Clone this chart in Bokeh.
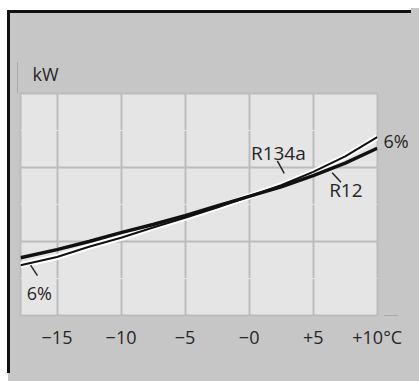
from bokeh.plotting import figure
from bokeh.models import (FixedTicker, Grid, Label, ColumnDataSource, Range1d, LinearAxis)
from bokeh.embed import file_html
from bokeh.resources import INLINE

# ---- data ----
temps = [-17.85, -15, -12.5, -10, -7.5, -5, -2.5, 0, 2.5, 5, 7.5, 10]
r12 = [0.78, 0.89, 1.00, 1.12, 1.23, 1.35, 1.48, 1.61, 1.74, 1.89, 2.06, 2.26]
r134a = [0.68, 0.79, 0.93, 1.05, 1.19, 1.32, 1.46, 1.61, 1.76, 1.94, 2.15, 2.41]
x_ticks = [-15, -10, -5, 0, 5, 10]
x_tick_labels = ["\u221215", "\u221210", "\u22125", "\u22120", "+5", "+10\u00b0C"]
y_grid = [1, 2]
right_mark = 2.36

FONT = "Open Sans"
TXT = "#262626"
GRID = "#bcbcbc"
PANEL = "#c6c6c6"

p = figure(width=411, height=373, output_backend="svg", toolbar_location=None,
           x_range=Range1d(-17.85, 10.02), y_range=Range1d(0, 3),
           y_axis_location=None,
           min_border_left=20, min_border_right=27, min_border_top=93, min_border_bottom=58,
           background_fill_color="#e5e5e5", border_fill_color=None)
# page decoration: black frame corner, grey panel, faint axis extensions
p.styles = {
    "background-color": "#ffffff",
    "background-image": ", ".join(["linear-gradient(#111111,#111111)"] * 2
                                  + ["linear-gradient(#a8a8a8,#a8a8a8)"] * 2
                                  + [f"linear-gradient({PANEL},{PANEL})"]),
    "background-position": "7px 10px, 7px 10px, 17px 62px, 384px 315px, 10px 13px",
    "background-size": "3px 100%, 100% 3px, 1px 31px, 14px 1px, 100% 100%",
    "background-repeat": "no-repeat",
    "box-shadow": f"8px 8px 0 0 {PANEL}",
}
p.outline_line_color = GRID
p.outline_line_width = 2

# title used as the unit label
p.title.text = "kW"
p.title.align = "left"
p.title.offset = 12
p.title.text_font = FONT
p.title.text_font_size = "18px"
p.title.text_font_style = "normal"
p.title.text_color = TXT
p.title.standoff = 15

# axis
ax = p.xaxis[0]
ax.ticker = FixedTicker(ticks=x_ticks)
ax.major_label_overrides = {t: l for t, l in zip(x_ticks, x_tick_labels)}
ax.axis_line_color = None
ax.major_tick_line_color = None
ax.minor_tick_line_color = None
ax.major_label_text_font = FONT
ax.major_label_text_font_size = "18px"
ax.major_label_text_color = TXT
ax.major_label_standoff = 3

rax = LinearAxis(ticker=FixedTicker(ticks=[right_mark]),
                 major_label_overrides={right_mark: "6%"},
                 axis_line_color=None, major_tick_line_color=None,
                 minor_tick_line_color=None, major_label_standoff=0,
                 major_label_text_font=FONT, major_label_text_font_size="18px",
                 major_label_text_color=TXT)
p.add_layout(rax, "right")

p.xgrid.ticker = FixedTicker(ticks=[t for t in x_ticks if t < 10])
p.xgrid.grid_line_color = GRID
p.xgrid.grid_line_width = 2
yg = Grid(dimension=1, ticker=FixedTicker(ticks=y_grid), grid_line_color=GRID, grid_line_width=2)
p.add_layout(yg)

# curves
src = ColumnDataSource(dict(t=temps, r12=r12, r134a=r134a))
p.line("t", "r134a", source=src, line_color="white", line_width=6)
p.line("t", "r12", source=src, line_color="#111111", line_width=3.5)
p.line("t", "r134a", source=src, line_color="#111111", line_width=2)

# leader lines
lead = dict(x0=[2.20, 6.48, -17.06], y0=[2.09, 1.93, 0.68],
            x1=[2.74, 7.17, -16.53], y1=[1.92, 1.80, 0.54])
p.segment("x0", "y0", "x1", "y1", source=ColumnDataSource(lead), line_color=TXT, line_width=1.5)

# labels
def lab(x, y, text, size):
    p.add_layout(Label(x=x, y=y, text=text, text_font=FONT, text_font_size=size,
                       text_color=TXT, text_align="center", text_baseline="middle"))

lab(2.28, 2.20, "R134a", "19px")
lab(7.55, 1.69, "R12", "19px")
lab(-16.38, 0.30, "6%", "18px")

open("out.html", "w").write(file_html(p, INLINE))
